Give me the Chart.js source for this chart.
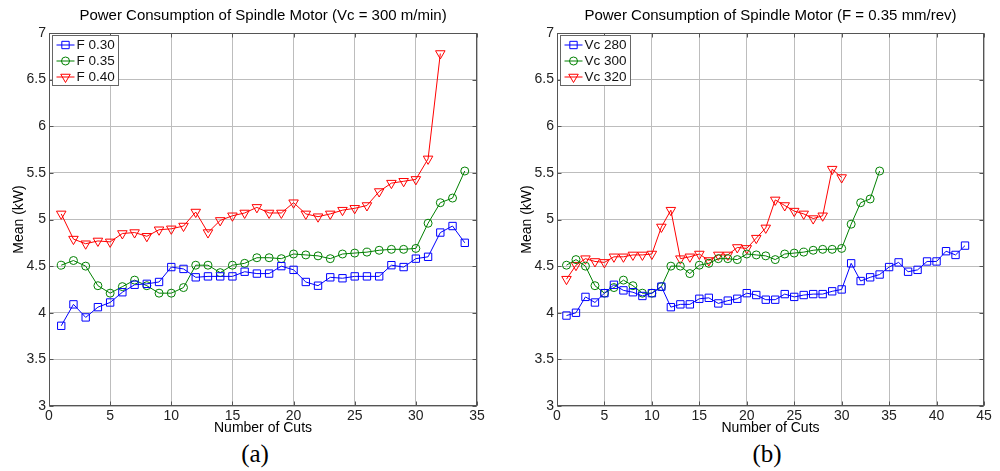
<!DOCTYPE html>
<html>
<head>
<meta charset="utf-8">
<script src="https://cdn.jsdelivr.net/npm/chart.js@4"></script>
<style>
    body { margin: 0; background: #fff; }
    .panel { position: absolute; top: 0; width: 500px; height: 471px; }
    .panel canvas { position: absolute; left: 0; top: 0; }
    .caption {
        position: absolute; top: 440px; width: 100%; text-align: center;
        font: 25px "Liberation Serif", "Times New Roman", serif; color: #000;
    }
</style>
</head>
<body>
<div class="panel" style="left:0">
    <canvas id="chart-a" width="500" height="440"></canvas>
    <div class="caption" style="left:5px">(a)</div>
</div>
<div class="panel" style="left:500px">
    <canvas id="chart-b" width="500" height="440"></canvas>
    <div class="caption" style="left:17px">(b)</div>
</div>
<script>
// cut number for each measurement
const cuts = [1, 2, 3, 4, 5, 6, 7, 8, 9, 10, 11, 12, 13, 14, 15, 16, 17, 18, 19, 20,
    21, 22, 23, 24, 25, 26, 27, 28, 29, 30, 31, 32, 33, 34, 35, 36, 37, 38, 39, 40, 41, 42, 43];

// (a) Vc = 300 m/min, different feeds
const feed030 = [3.86, 4.09, 3.95, 4.06, 4.11, 4.22, 4.30, 4.31, 4.33, 4.49, 4.47, 4.38, 4.39, 4.39, 4.39, 4.44, 4.42,
    4.42, 4.50, 4.46, 4.33, 4.29, 4.38, 4.37, 4.39, 4.39, 4.39, 4.51, 4.49, 4.58, 4.60, 4.86, 4.93, 4.75];
const feed035 = [4.51, 4.56, 4.50, 4.29, 4.21, 4.28, 4.35, 4.29, 4.21, 4.21, 4.27, 4.51, 4.51, 4.43, 4.51, 4.53, 4.59,
    4.59, 4.58, 4.63, 4.62, 4.61, 4.58, 4.63, 4.64, 4.65, 4.67, 4.68, 4.68, 4.69, 4.96, 5.18, 5.23, 5.52];
const feed040 = [5.06, 4.79, 4.74, 4.77, 4.76, 4.85, 4.86, 4.82, 4.89, 4.90, 4.93, 5.08, 4.86, 4.99, 5.04, 5.07, 5.13,
    5.07, 5.07, 5.18, 5.06, 5.03, 5.06, 5.10, 5.12, 5.15, 5.30, 5.39, 5.41, 5.43, 5.65, 6.78];

// (b) F = 0.35 mm/rev, different cutting speeds
const vc280 = [3.97, 4.00, 4.17, 4.11, 4.21, 4.30, 4.24, 4.22, 4.18, 4.21, 4.28, 4.06, 4.09, 4.09, 4.15, 4.16, 4.10,
    4.13, 4.15, 4.21, 4.19, 4.14, 4.14, 4.20, 4.17, 4.19, 4.20, 4.20, 4.23, 4.25, 4.53, 4.34, 4.38, 4.41, 4.49, 4.54,
    4.44, 4.46, 4.55, 4.55, 4.66, 4.62, 4.72];
const vc300 = [4.51, 4.57, 4.50, 4.29, 4.21, 4.27, 4.35, 4.29, 4.21, 4.21, 4.28, 4.50, 4.50, 4.42, 4.51, 4.53, 4.58,
    4.58, 4.57, 4.63, 4.62, 4.61, 4.57, 4.63, 4.64, 4.65, 4.67, 4.68, 4.68, 4.69, 4.95, 5.18, 5.22, 5.52];
const vc320 = [4.36, 4.51, 4.58, 4.55, 4.54, 4.60, 4.60, 4.62, 4.62, 4.63, 4.92, 5.10, 4.58, 4.60, 4.63, 4.56, 4.62,
    4.62, 4.70, 4.69, 4.80, 4.91, 5.21, 5.15, 5.09, 5.06, 5.01, 5.04, 5.54, 5.45];

const yTicks = [3, 3.5, 4, 4.5, 5, 5.5, 6, 6.5, 7];

const FONT = '"Liberation Sans", Arial, sans-serif';
const BLUE = '#0000ff', GREEN = '#008000', RED = '#ff0000';

const markers = {
    square: { pointStyle: 'rect', pointRadius: 5.2, pointRotation: 0 },
    circle: { pointStyle: 'circle', pointRadius: 4, pointRotation: 0 },
    triangle: { pointStyle: 'triangle', pointRadius: 5.5, pointRotation: 180 },
};

function series(label, values, color, marker) {
    return {
        label,
        data: values.map((v, i) => ({ x: cuts[i], y: v })),
        borderColor: color,
        pointBorderColor: color,
        pointBackgroundColor: 'rgba(0,0,0,0)',
        borderWidth: 1,
        pointBorderWidth: 1,
        tension: 0,
        ...markers[marker],
    };
}

// matlab-like box with inward tick marks
const frameBox = {
    id: 'frameBox',
    afterDraw(chart) {
        const { ctx, chartArea: a, scales } = chart;
        ctx.save();
        ctx.strokeStyle = '#555';
        ctx.lineWidth = 1;
        const l = Math.round(a.left) + 0.5, r = Math.round(a.right) - 0.5;
        const t = Math.round(a.top) + 0.5, b = Math.round(a.bottom) - 0.5;
        ctx.strokeRect(l, t, r - l, b - t);
        ctx.beginPath();
        scales.x.ticks.forEach(tk => {
            const px = Math.round(scales.x.getPixelForValue(tk.value)) + 0.5;
            ctx.moveTo(px, b); ctx.lineTo(px, b - 4);
            ctx.moveTo(px, t); ctx.lineTo(px, t + 4);
        });
        scales.y.ticks.forEach(tk => {
            const py = Math.round(scales.y.getPixelForValue(tk.value)) + 0.5;
            ctx.moveTo(l, py); ctx.lineTo(l + 4, py);
            ctx.moveTo(r, py); ctx.lineTo(r - 4, py);
        });
        ctx.stroke();
        ctx.restore();
    }
};

// legend drawn inside the plot, line + marker sample
const legendBox = {
    id: 'legendBox',
    afterDraw(chart) {
        const { ctx, chartArea } = chart;
        const sets = chart.data.datasets;
        ctx.save();
        ctx.font = '13.5px ' + FONT;
        const textW = Math.max(...sets.map(d => ctx.measureText(d.label).width));
        const x0 = Math.round(chartArea.left) + 3.5;
        const y0 = Math.round(chartArea.top) + 2.5;
        const w = Math.round(24 + textW + 4);
        ctx.fillStyle = '#fff';
        ctx.fillRect(x0, y0, w, 50);
        ctx.strokeStyle = '#666';
        ctx.lineWidth = 1;
        ctx.strokeRect(x0, y0, w, 50);
        sets.forEach((d, i) => {
            const y = y0 + 9.5 + i * 16;
            ctx.strokeStyle = d.borderColor;
            ctx.beginPath();
            ctx.moveTo(x0 + 4, y);
            ctx.lineTo(x0 + 22, y);
            ctx.stroke();
            ctx.fillStyle = 'rgba(0,0,0,0)';
            Chart.helpers.drawPoint(ctx, {
                pointStyle: d.pointStyle, radius: d.pointRadius,
                rotation: d.pointRotation, borderWidth: 1
            }, x0 + 13, y);
            ctx.fillStyle = '#111';
            ctx.textBaseline = 'middle';
            ctx.textAlign = 'left';
            ctx.fillText(d.label, x0 + 24, y + 0.5);
        });
        ctx.restore();
    }
};

function makeChart(id, title, datasets, xMax, yWidth, yTitlePad, padRight) {
    const ctx = document.getElementById(id).getContext('2d');
    return new Chart(ctx, {
        type: 'line',
        data: { datasets },
        options: {
            responsive: false,
            animation: false,
            layout: { padding: { left: 0, right: padRight, top: 0, bottom: 3 } },
            plugins: {
                legend: { display: false },
                tooltip: { enabled: false },
                title: {
                    display: true,
                    text: title,
                    fullSize: false,
                    color: '#000',
                    font: { family: FONT, size: 15, weight: 'normal', lineHeight: 1.2 },
                    padding: { top: 7, bottom: 8 },
                },
            },
            scales: {
                x: {
                    type: 'linear',
                    min: 0,
                    max: xMax,
                    afterFit: s => { s.height = 31; },
                    border: { display: false },
                    grid: { color: '#bdbdbd', drawTicks: false },
                    ticks: {
                        stepSize: 5,
                        padding: 2,
                        color: '#222',
                        font: { family: FONT, size: 14 },
                    },
                    title: {
                        display: true,
                        text: 'Number of Cuts',
                        color: '#000',
                        font: { family: FONT, size: 14, lineHeight: 1.2 },
                        padding: { top: 0, bottom: 0 },
                    },
                },
                y: {
                    min: 3,
                    max: 7,
                    afterFit: s => { s.width = yWidth; },
                    afterBuildTicks: s => { s.ticks = yTicks.map(v => ({ value: v })); },
                    border: { display: false },
                    grid: { color: '#bdbdbd', drawTicks: false },
                    ticks: {
                        padding: 3,
                        color: '#222',
                        font: { family: FONT, size: 14 },
                        callback: v => String(v),
                    },
                    title: {
                        display: true,
                        text: 'Mean (kW)',
                        color: '#000',
                        font: { family: FONT, size: 14, lineHeight: 1.2 },
                        padding: { top: yTitlePad, bottom: 0 },
                    },
                },
            },
        },
        plugins: [frameBox, legendBox],
    });
}

Chart.defaults.scale.grid.borderDash = [1, 2];

makeChart('chart-a', 'Power Consumption of Spindle Motor (Vc = 300 m/min)', [
    series('F 0.30', feed030, BLUE, 'square'),
    series('F 0.35', feed035, GREEN, 'circle'),
    series('F 0.40', feed040, RED, 'triangle'),
], 35, 49, 10.5, 23);

makeChart('chart-b', 'Power Consumption of Spindle Motor (F = 0.35 mm/rev)', [
    series('Vc 280', vc280, BLUE, 'square'),
    series('Vc 300', vc300, GREEN, 'circle'),
    series('Vc 320', vc320, RED, 'triangle'),
], 45, 57, 18.5, 16);
</script>
</body>
</html>
